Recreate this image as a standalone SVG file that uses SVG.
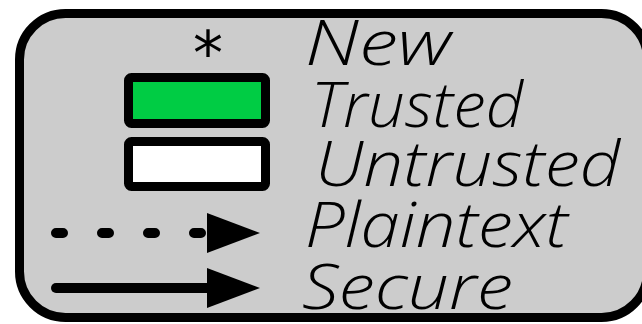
<svg xmlns="http://www.w3.org/2000/svg" width="642" height="324" viewBox="0 0 642 324">
<style>
.lbl{font-family:"Open Sans","DejaVu Sans",sans-serif;font-style:italic;font-weight:300;font-size:62px;fill:#000}
.box{stroke:#000;stroke-width:9}
.ln{stroke:#000;stroke-width:10;stroke-linecap:round;fill:none}
</style>
<g id="legend">
<rect x="19.5" y="13.5" width="628" height="304" rx="46" ry="46" fill="#cccccc" stroke="#000" stroke-width="9"/>
</g>
<g id="new">
<text x="208" y="74" font-family="'DejaVu Sans',sans-serif" font-size="60" text-anchor="middle">*</text>
<text class="lbl" x="305" y="65" textLength="146" lengthAdjust="spacingAndGlyphs">New</text>
</g>
<g id="trusted">
<rect class="box" x="128.5" y="77.5" width="137" height="46" rx="3" fill="#00cc44"/>
<text class="lbl" x="311" y="127" textLength="212" lengthAdjust="spacingAndGlyphs">Trusted</text>
</g>
<g id="untrusted">
<rect class="box" x="128.5" y="141.5" width="137" height="45" rx="3" fill="#ffffff"/>
<text class="lbl" x="315" y="186" textLength="305" lengthAdjust="spacingAndGlyphs">Untrusted</text>
</g>
<g id="connectors">
<line class="ln" x1="56" y1="233" x2="205" y2="233" stroke-dasharray="7 39"/>
<polygon points="207,213 260,233 207,253" fill="#000"/>
<line class="ln" x1="56" y1="288" x2="210" y2="288"/>
<polygon points="207,268 260,288 207,308" fill="#000"/>
</g>
<g id="plaintext">
<text class="lbl" x="305" y="247" textLength="263" lengthAdjust="spacingAndGlyphs">Plaintext</text>
</g>
<g id="secure">
<text class="lbl" x="302" y="309" textLength="211" lengthAdjust="spacingAndGlyphs">Secure</text>
</g>
</svg>
